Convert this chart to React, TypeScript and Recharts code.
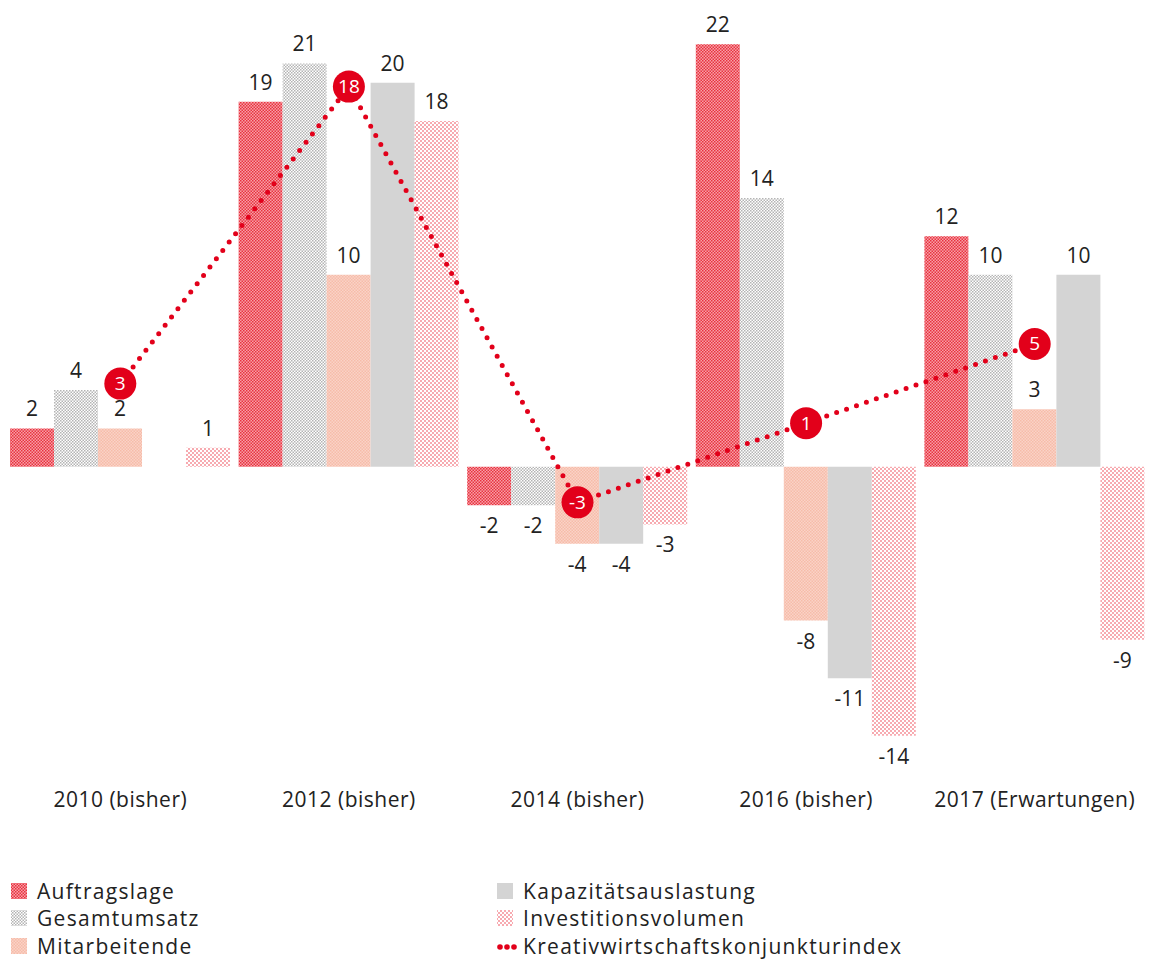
import React from 'react'
import {
	ComposedChart, Bar, Line, XAxis, YAxis, Legend
} from 'recharts'

const years = ['2010 (bisher)', '2012 (bisher)', '2014 (bisher)', '2016 (bisher)', '2017 (Erwartungen)']
const auftragslage = [2, 19, -2, 22, 12]
const gesamtumsatz = [4, 21, -2, 14, 10]
const mitarbeitende = [2, 10, -4, -8, 3]
const kapazitaet = [null, 20, -4, -11, 10]
const investition = [1, 18, -3, -14, -9]
const konjunkturindex = [3, 18, -3, 1, 5]

const seriesNames = {
	auftragslage: 'Auftragslage',
	gesamtumsatz: 'Gesamtumsatz',
	mitarbeitende: 'Mitarbeitende',
	kapazitaet: 'Kapazitätsauslastung',
	investition: 'Investitionsvolumen',
	index: 'Kreativwirtschaftskonjunkturindex',
}

const data = years.map((year, i) => ({
	year,
	auftragslage: auftragslage[i],
	gesamtumsatz: gesamtumsatz[i],
	mitarbeitende: mitarbeitende[i],
	kapazitaet: kapazitaet[i],
	investition: investition[i],
	index: konjunkturindex[i],
}))

const FONT = '"Open Sans", Lato, sans-serif'
const RED = '#e2001a'

// value label above positive bars, below negative ones
const BarValue = (props: any) => {
	const { x, y, width, height, value } = props
	if (value == null) return null
	const top = Math.min(y, y + height)
	const bottom = Math.max(y, y + height)
	const cx = x + width / 2
	const ty = value >= 0 ? top - 12 : bottom + 28
	return (
		<text x={cx} y={ty} textAnchor="middle" fontSize={21} fill="#222" fontFamily={FONT}>
			{value}
		</text>
	)
}

const IndexDot = (props: any) => {
	const { cx, cy, value, index } = props
	if (cx == null || cy == null) return null
	return (
		<g key={`dot-${index}`}>
			<circle cx={cx} cy={cy} r={16} fill={RED} />
			<text x={cx} y={cy + 6.5} textAnchor="middle" fontSize={19} fill="#fff" fontFamily={FONT}>
				{value}
			</text>
		</g>
	)
}

const swatches = {
	auftragslage: 'url(#patAuftrag)',
	gesamtumsatz: 'url(#patUmsatz)',
	mitarbeitende: 'url(#patMitarbeit)',
	kapazitaet: '#d4d4d4',
	investition: 'url(#patInvest)',
}

const LegendItem = ({ k, x, y }: { k: string, x: number, y: number }) => (
	<g>
		{k === 'index' ? (
			[0, 1, 2].map((d) => <circle key={d} cx={x + 3 + d * 7} cy={y + 2} r={2.8} fill={RED} />)
		) : (
			<rect x={x} y={y - 7} width={16} height={16} fill={swatches[k]} />
		)}
		<text x={x + 26} y={y + 9} fontSize={21} letterSpacing={1.3} fill="#222" fontFamily={FONT}>{seriesNames[k]}</text>
	</g>
)

const CustomLegend = () => (
	<svg width={1153} height={90} style={{ display: 'block' }}>
		<LegendItem k="auftragslage" x={11} y={20} />
		<LegendItem k="gesamtumsatz" x={11} y={47} />
		<LegendItem k="mitarbeitende" x={11} y={75} />
		<LegendItem k="kapazitaet" x={497} y={20} />
		<LegendItem k="investition" x={497} y={47} />
		<LegendItem k="index" x={497} y={75} />
	</svg>
)

export default function App() {
	return (
		<div style={{ marginLeft: -8, marginTop: -8, width: 1153, height: 960, background: '#fff' }}>
			<ComposedChart
				width={1153}
				height={960}
				data={data}
				margin={{ top: 25, right: 4, bottom: 85, left: 6 }}
				barCategoryGap={4}
				barGap={0}
			>
				<defs>
					<pattern id="patAuftrag" width="3" height="3" patternUnits="userSpaceOnUse">
						<rect width="3" height="3" fill="#f7a1a8" />
						<rect width="1.5" height="1.5" fill="#e8323f" />
						<rect x="1.5" y="1.5" width="1.5" height="1.5" fill="#e8323f" />
					</pattern>
					<pattern id="patUmsatz" width="3" height="3" patternUnits="userSpaceOnUse">
						<rect width="3" height="3" fill="#fff" />
						<rect width="1.5" height="1.5" fill="#b4b4b4" />
						<rect x="1.5" y="1.5" width="1.5" height="1.5" fill="#b4b4b4" />
					</pattern>
					<pattern id="patMitarbeit" width="3" height="3" patternUnits="userSpaceOnUse">
						<rect width="3" height="3" fill="#fad3c7" />
						<rect width="1.5" height="1.5" fill="#f6bca9" />
						<rect x="1.5" y="1.5" width="1.5" height="1.5" fill="#f6bca9" />
					</pattern>
					<pattern id="patInvest" width="4" height="4" patternUnits="userSpaceOnUse">
						<rect width="4" height="4" fill="#fff" />
						<rect width="2" height="2" fill="#f7aab0" />
						<rect x="2" y="2" width="2" height="2" fill="#f7aab0" />
					</pattern>
				</defs>
				<XAxis
					dataKey="year"
					axisLine={false}
					tickLine={false}
					interval={0}
					tickMargin={31}
					tick={{ fontSize: 21, letterSpacing: 0.5, fill: '#222', fontFamily: FONT }}
				/>
				<YAxis yAxisId="bars" hide type="number" domain={[-15, 23]} />
				<YAxis yAxisId="index" hide type="number" domain={[-15.76, 21.11]} />
				<Legend content={CustomLegend} verticalAlign="bottom" wrapperStyle={{ bottom: 0, left: 0 }} />
				<Bar yAxisId="bars" dataKey="auftragslage" name={seriesNames.auftragslage} fill="url(#patAuftrag)" isAnimationActive={false} label={BarValue} />
				<Bar yAxisId="bars" dataKey="gesamtumsatz" name={seriesNames.gesamtumsatz} fill="url(#patUmsatz)" isAnimationActive={false} label={BarValue} />
				<Bar yAxisId="bars" dataKey="mitarbeitende" name={seriesNames.mitarbeitende} fill="url(#patMitarbeit)" isAnimationActive={false} label={BarValue} />
				<Bar yAxisId="bars" dataKey="kapazitaet" name={seriesNames.kapazitaet} fill="#d4d4d4" isAnimationActive={false} label={BarValue} />
				<Bar yAxisId="bars" dataKey="investition" name={seriesNames.investition} fill="url(#patInvest)" isAnimationActive={false} label={BarValue} />
				<Line
					yAxisId="index"
					dataKey="index"
					name={seriesNames.index}
					type="linear"
					stroke={RED}
					strokeWidth={5}
					strokeDasharray="0 10.5"
					strokeLinecap="round"
					dot={IndexDot}
					activeDot={false}
					isAnimationActive={false}
				/>
			</ComposedChart>
		</div>
	)
}
